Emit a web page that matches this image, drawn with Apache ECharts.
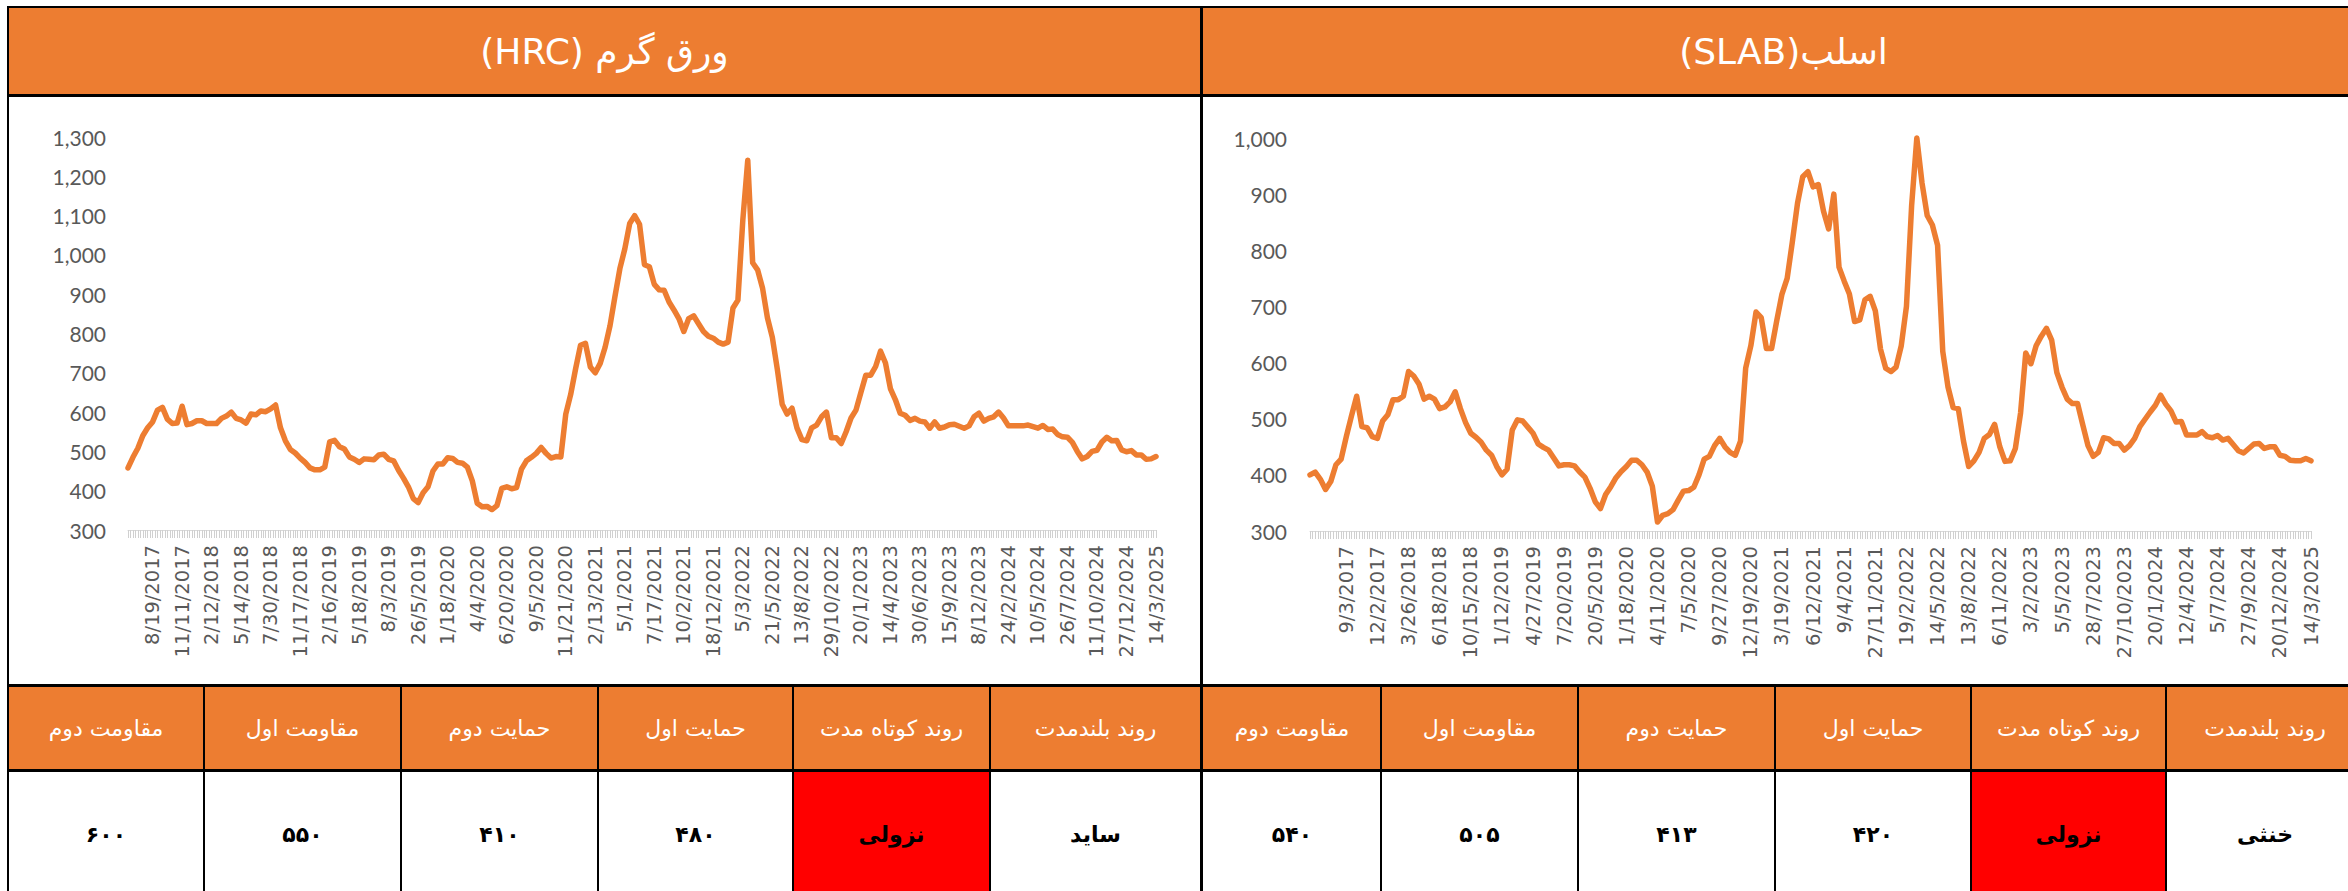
<!DOCTYPE html>
<html>
<head>
<meta charset="utf-8">
<script src="https://cdn.jsdelivr.net/npm/echarts@6/dist/echarts.min.js"></script>
<style>
html,body{margin:0;padding:0;background:#fff;}
#page{position:relative;width:2348px;height:891px;overflow:hidden;background:#fff;}
#chart{position:absolute;left:0;top:0;width:2348px;height:891px;z-index:2;}
.ln{position:absolute;background:#000;z-index:3;}
.hdr{position:absolute;background:#ED7D31;color:#fff;display:flex;align-items:center;justify-content:center;font-family:"DejaVu Sans",sans-serif;font-size:36px;direction:rtl;z-index:1;}
.cell{position:absolute;display:flex;align-items:center;justify-content:center;font-family:"DejaVu Sans",sans-serif;direction:rtl;z-index:1;white-space:nowrap;}
.th{background:#ED7D31;color:#fff;font-size:22px;}
.td{background:#fff;color:#000;font-size:22px;font-weight:bold;}
.td.red{background:#FF0000;}
</style>
</head>
<body>
<div id="page">
  <div id="chart"></div>
</div>
<script>
// ---------------- DATA ----------------
const titles = ['ورق گرم (HRC)', 'اسلب(SLAB)'];

const hrcLabels = ['8/19/2017','11/11/2017','2/12/2018','5/14/2018','7/30/2018','11/17/2018','2/16/2019','5/18/2019','8/3/2019','26/5/2019','1/18/2020','4/4/2020','6/20/2020','9/5/2020','11/21/2020','2/13/2021','5/1/2021','7/17/2021','10/2/2021','18/12/2021','5/3/2022','21/5/2022','13/8/2022','29/10/2022','20/1/2023','14/4/2023','30/6/2023','15/9/2023','8/12/2023','24/2/2024','10/5/2024','26/7/2024','11/10/2024','27/12/2024','14/3/2025'];

const hrcValues = [
458,485,508,540,560,575,605,612,582,571,
572,615,568,571,578,578,571,571,571,584,
590,600,584,580,572,595,593,603,601,608,
618,560,527,505,496,483,472,458,453,453,
460,524,528,512,506,486,480,472,481,480,
479,491,493,480,476,452,432,410,380,370,
395,410,450,468,468,484,482,472,470,460,
425,368,359,360,352,362,406,410,405,408,
455,476,485,495,510,495,483,487,486,595,
645,710,770,775,715,700,724,765,820,894,
965,1015,1080,1100,1078,975,970,925,911,910,
880,860,838,805,838,845,825,805,793,788,
778,773,778,865,885,1089,1241,980,962,916,
840,790,710,620,595,610,560,530,527,560,
567,588,600,535,535,520,550,585,605,650,
694,694,716,755,725,660,632,597,592,579,
584,577,575,559,575,559,562,568,569,564,
559,565,588,597,577,584,588,600,585,565,
565,565,565,567,563,559,566,556,557,543,
537,536,523,500,481,487,500,503,524,536,
527,528,504,499,502,491,491,480,481,487
];

const slabLabels = ['9/3/2017','12/2/2017','3/26/2018','6/18/2018','10/15/2018','1/12/2019','4/27/2019','7/20/2019','20/5/2019','1/18/2020','4/11/2020','7/5/2020','9/27/2020','12/19/2020','3/19/2021','6/12/2021','9/4/2021','27/11/2021','19/2/2022','14/5/2022','13/8/2022','6/11/2022','3/2/2023','5/5/2023','28/7/2023','27/10/2023','20/1/2024','12/4/2024','5/7/2024','27/9/2024','20/12/2024','14/3/2025'];

const slabValues = [
400,405,392,374,388,418,428,468,505,540,
486,484,468,465,496,507,534,534,540,584,
576,562,535,540,535,518,521,530,548,518,
493,474,467,458,444,435,415,400,410,480,
498,496,485,474,455,449,444,430,416,418,
418,416,405,396,376,352,340,365,379,395,
406,415,426,426,418,405,380,316,328,331,
338,355,371,372,378,400,428,433,452,465,
450,440,435,460,590,630,690,680,625,625,
675,722,750,815,884,931,940,913,917,870,
838,900,770,745,722,673,676,712,718,692,
624,590,584,592,630,700,880,1000,920,862,
845,809,620,557,520,518,460,415,425,440,
465,472,490,450,424,425,447,510,617,598,
630,647,661,640,582,556,535,527,527,489,
452,433,440,466,464,456,456,444,452,465,
486,499,512,524,542,526,514,494,495,471,
471,471,477,468,466,470,462,465,454,443,
439,447,455,456,447,450,450,435,433,426,
425,425,429,425
];

// sampling: one labelled date every 6 points; index of the first labelled point
const hrcFirstLabel = 5, slabFirstLabel = 7, labelStep = 6;

const hrcYTicks = {min:300, max:1300, step:100};
const slabYTicks = {min:300, max:1000, step:100};

const tableHeaders = ['مقاومت دوم','مقاومت اول','حمایت دوم','حمایت اول','روند کوتاه مدت','روند بلندمدت'];
const hrcTable = ['۶۰۰','۵۵۰','۴۱۰','۴۸۰','نزولی','ساید'];
const slabTable = ['۵۴۰','۵۰۵','۴۱۳','۴۲۰','نزولی','خنثی'];

// ---------------- LAYOUT (frames & tables) ----------------
const page = document.getElementById('page');
function addDiv(cls, l, t, w, h, text) {
  const d = document.createElement('div');
  d.className = cls;
  d.style.left = l + 'px'; d.style.top = t + 'px';
  d.style.width = w + 'px'; d.style.height = h + 'px';
  if (text !== undefined) d.textContent = text;
  page.appendChild(d);
  return d;
}
// headers
addDiv('hdr', 9, 8, 1191, 87, titles[0]);
addDiv('hdr', 1203, 8, 1161, 87, titles[1]);
// tables
const colsHrc = [8, 204, 401, 598, 793, 990, 1201];
const colsSlab = [1203, 1381, 1578, 1775, 1971, 2166, 2364];
function buildTable(cols, values) {
  for (let c = 0; c < 6; c++) {
    const l = cols[c], w = cols[c + 1] - cols[c];
    addDiv('cell th', l, 687, w, 83, tableHeaders[c]);
    addDiv('cell td' + (c === 4 ? ' red' : ''), l, 772, w, 124, values[c]);
    if (c > 0) addDiv('ln', l - 1, 686, 2, 210);
  }
}
buildTable(colsHrc, hrcTable);
buildTable(colsSlab, slabTable);
// frame lines
addDiv('ln', 7, 6, 2341, 2);
addDiv('ln', 7, 6, 2, 885);
addDiv('ln', 1200, 6, 3, 885);
addDiv('ln', 7, 94, 2341, 3);
addDiv('ln', 7, 684, 2341, 3);
addDiv('ln', 7, 769, 2341, 3);

// ---------------- CHART ----------------
function makeCats(values, labels, first) {
  return values.map((_, i) => (i >= first && (i - first) % labelStep === 0) ? (labels[(i - first) / labelStep] || '') : '');
}
const hrcCats = makeCats(hrcValues, hrcLabels, hrcFirstLabel);
const slabCats = makeCats(slabValues, slabLabels, slabFirstLabel);

const labelFont = {color:'#595959', fontFamily:'DejaVu Sans', fontSize:19.5};
function mainX(grid, cats) {
  return {
    type:'category', gridIndex:grid, data:cats, boundaryGap:false, position:'bottom',
    axisLine:{show:false}, axisTick:{show:false}, splitLine:{show:false},
    axisLabel:Object.assign({interval:(i, v) => v !== '', rotate:90, margin:15}, labelFont)
  };
}
function tickX(grid, n) {
  return {
    type:'category', gridIndex:grid, data:new Array(2 * n - 1).fill(''), boundaryGap:false, position:'bottom',
    axisLine:{show:true, lineStyle:{color:'#D9D9D9', width:1}},
    axisTick:{show:true, interval:0, length:8, lineStyle:{color:'#D0D0D0', width:1}},
    axisLabel:{show:false}, splitLine:{show:false}
  };
}
function yAx(grid, t, margin) {
  return {
    type:'value', gridIndex:grid, min:t.min, max:t.max, interval:t.step,
    axisLine:{show:false}, axisTick:{show:false}, splitLine:{show:false},
    axisLabel:{margin:margin, color:'#595959', fontFamily:'Lato', fontSize:21,
      formatter:v => v.toLocaleString('en-US')}
  };
}
function lineSeries(idx, data) {
  return {
    type:'line', xAxisIndex:idx, yAxisIndex:idx, data:data, symbol:'none', clip:false,
    lineStyle:{color:'#ED7D31', width:5.5, cap:'round', join:'round'},
    itemStyle:{color:'#ED7D31'}
  };
}

const chart = echarts.init(document.getElementById('chart'), null, {renderer:'svg'});
chart.setOption({
  animation:false,
  backgroundColor:'transparent',
  grid:[
    {left:128, top:137, width:1028, height:393},
    {left:1310, top:138, width:1001, height:393}
  ],
  xAxis:[mainX(0, hrcCats), mainX(1, slabCats), tickX(0, hrcValues.length), tickX(1, slabValues.length)],
  yAxis:[yAx(0, hrcYTicks, 22), yAx(1, slabYTicks, 23)],
  series:[lineSeries(0, hrcValues), lineSeries(1, slabValues)]
});
</script>
</body>
</html>
